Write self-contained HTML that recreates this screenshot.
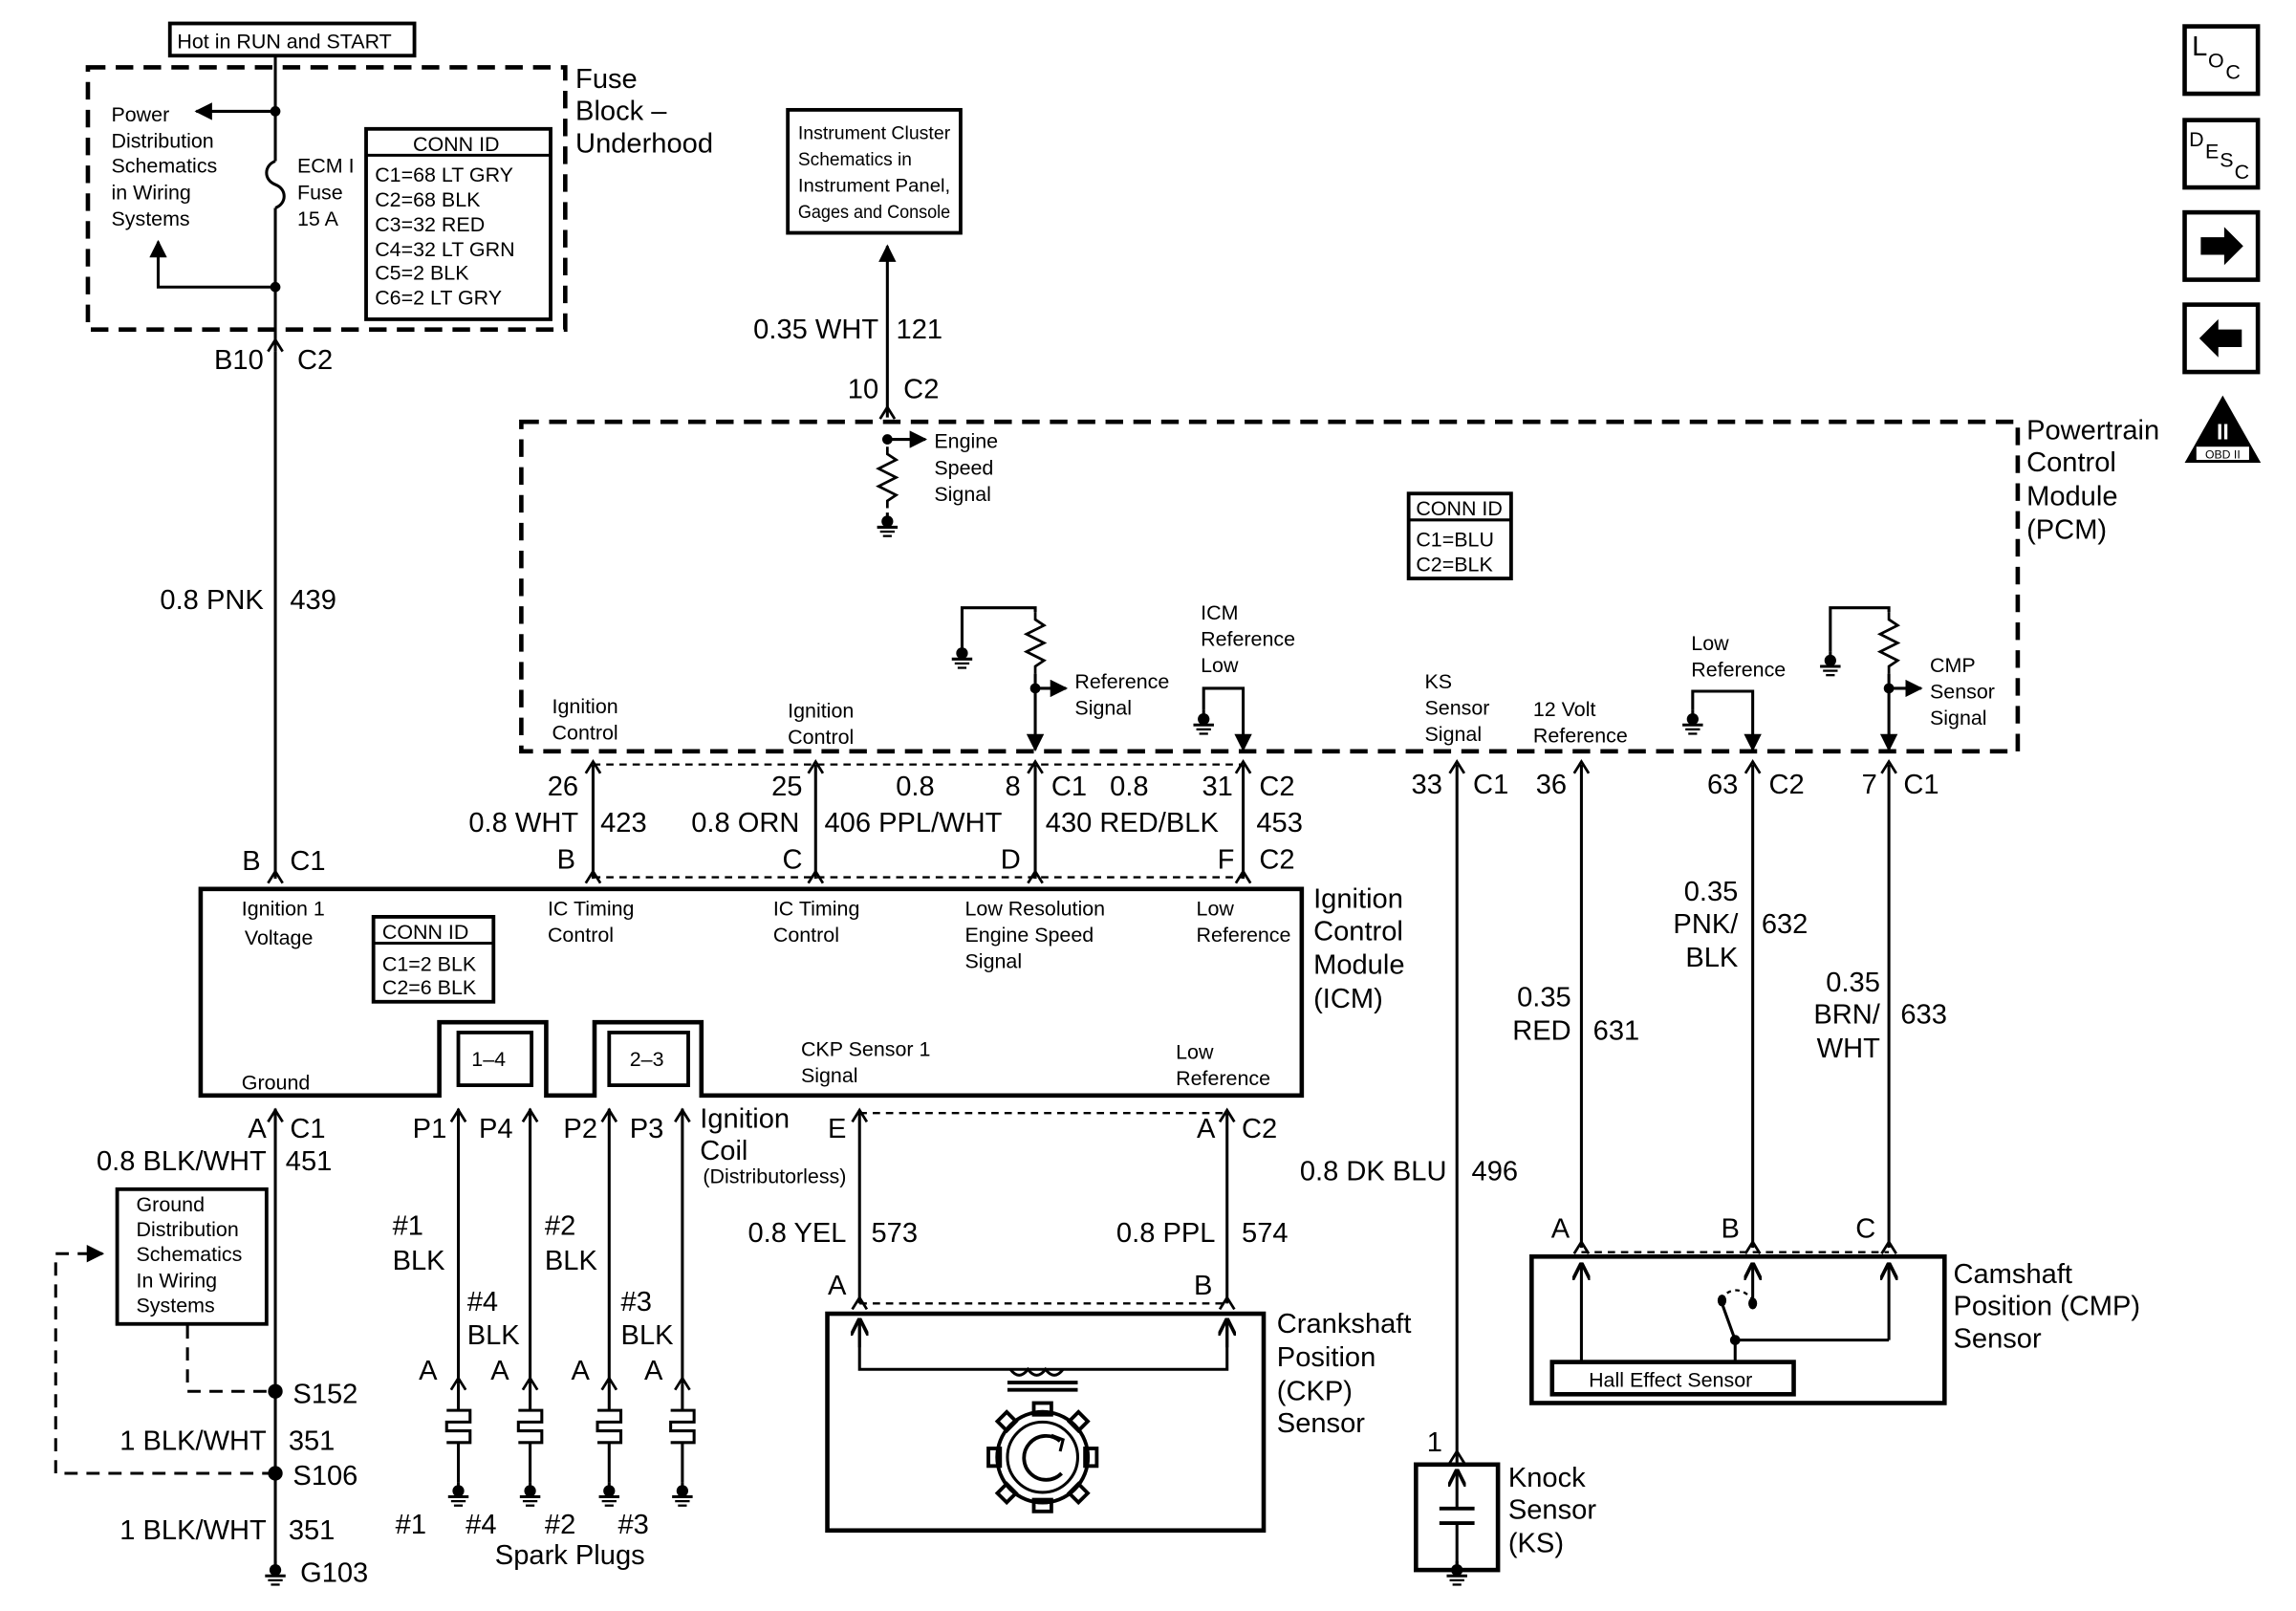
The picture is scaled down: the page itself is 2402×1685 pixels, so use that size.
<!DOCTYPE html>
<html><head><meta charset="utf-8"><style>
html,body{margin:0;padding:0;background:#fff;}
svg{display:block}
text{font-family:"Liberation Sans",Arial,sans-serif;fill:#000}
.s{font-size:14px}
.m{font-size:19px}
.e{text-anchor:end}
</style></head><body>
<svg width="2402" height="1685" viewBox="0 0 1568 1100" xmlns="http://www.w3.org/2000/svg">
<defs>
<marker id="ar" viewBox="0 0 10 10" refX="9" refY="5" markerWidth="6" markerHeight="6" orient="auto-start-reverse"><path d="M0,0 L10,5 L0,10 z" fill="#000"/></marker>
<marker id="op" viewBox="0 0 10 10" refX="10" refY="5" markerWidth="6" markerHeight="6" orient="auto"><path d="M0,0 L10,5 L0,10" fill="none" stroke="#000" stroke-width="2"/></marker>
<g id="gnd"><line x1="0" y1="0" x2="0" y2="4" stroke="#000" stroke-width="2"/><circle cx="0" cy="6" r="4" fill="#000"/><line x1="-7" y1="10" x2="7" y2="10" stroke="#000" stroke-width="2"/><line x1="-5" y1="13" x2="5" y2="13" stroke="#000" stroke-width="1.5"/><line x1="-3" y1="16" x2="3" y2="16" stroke="#000" stroke-width="1.5"/></g>
<path id="cn" d="M-5,6 L0,-2 L5,6" fill="none" stroke="#000" stroke-width="1.8"/>
<path id="res" d="M0,0 L0,5 L6,9 L-6,15 L6,21 L-6,27 L6,33 L0,37 L0,42" fill="none" stroke="#000" stroke-width="1.8"/>
</defs>
<g stroke="#000" fill="none" stroke-width="2">
<rect x="116" y="16" width="167" height="22" stroke-width="2.5"/>
<rect x="60" y="46" width="326" height="179" stroke-width="3" stroke-dasharray="12,7"/>
<line x1="188" y1="38" x2="188" y2="110"/>
<path d="M188,110 c-8,3 -8,13 0,16 c8,3 8,13 0,16"/>
<line x1="188" y1="142" x2="188" y2="240"/>
<line x1="188" y1="76" x2="134" y2="76" marker-end="url(#ar)"/>
<polyline points="188,196 108,196 108,165" marker-end="url(#ar)"/>
<rect x="250" y="88" width="126" height="130" stroke-width="2.5"/>
<line x1="250" y1="106" x2="376" y2="106"/>
<rect x="538" y="75" width="118" height="84" stroke-width="2.5"/>
<line x1="606" y1="285" x2="606" y2="168" marker-end="url(#ar)"/>
<rect x="356" y="288" width="1022" height="225" stroke-width="3" stroke-dasharray="12,7"/>
<line x1="606" y1="300" x2="632" y2="300" marker-end="url(#ar)"/>
<use href="#res" x="606" y="305"/>
<rect x="962" y="337" width="70" height="58" stroke-width="2.5"/>
<line x1="962" y1="355" x2="1032" y2="355"/>
<use href="#res" x="707" y="418"/>
<polyline points="707,418 707,415 657,415 657,440"/>
<line x1="707" y1="460" x2="707" y2="512" marker-end="url(#ar)"/>
<line x1="707" y1="470" x2="728" y2="470" marker-end="url(#ar)"/>
<polyline points="822,485 822,470 849,470 849,512" marker-end="url(#ar)"/>
<polyline points="1156,485 1156,472 1197,472 1197,512" marker-end="url(#ar)"/>
<use href="#res" x="1290" y="418"/>
<polyline points="1290,418 1290,415 1250,415 1250,445"/>
<line x1="1290" y1="460" x2="1290" y2="512" marker-end="url(#ar)"/>
<line x1="1290" y1="470" x2="1312" y2="470" marker-end="url(#ar)"/>
<line x1="405" y1="522" x2="849" y2="522" stroke-dasharray="5,4" stroke-width="1.5"/>
<line x1="405" y1="599" x2="849" y2="599" stroke-dasharray="5,4" stroke-width="1.5"/>
<line x1="405" y1="522" x2="405" y2="600"/>
<line x1="557" y1="522" x2="557" y2="600"/>
<line x1="707" y1="522" x2="707" y2="600"/>
<line x1="849" y1="522" x2="849" y2="600"/>
<line x1="188" y1="240" x2="188" y2="600"/>
<path d="M137,607 L889,607 L889,748 L479,748 L479,698 L406,698 L406,748 L373,748 L373,698 L300,698 L300,748 L137,748 Z" stroke-width="3"/>
<rect x="313" y="705" width="50" height="36" stroke-width="2.5"/>
<rect x="416" y="705" width="54" height="36" stroke-width="2.5"/>
<rect x="255" y="626" width="82" height="58" stroke-width="2.5"/>
<line x1="255" y1="644" x2="337" y2="644"/>
<line x1="995" y1="522" x2="995" y2="1000"/>
<line x1="1080" y1="522" x2="1080" y2="852"/>
<line x1="1197" y1="522" x2="1197" y2="852"/>
<line x1="1290" y1="522" x2="1290" y2="852"/>
<line x1="1080" y1="855" x2="1290" y2="855" stroke-dasharray="5,4" stroke-width="1.5"/>
<rect x="1046" y="858" width="282" height="100" stroke-width="3"/>
<rect x="1060" y="930" width="165" height="22" stroke-width="3"/>
<line x1="1080" y1="930" x2="1080" y2="862" marker-end="url(#op)"/>
<line x1="1197" y1="890" x2="1197" y2="862" marker-end="url(#op)"/>
<line x1="1290" y1="915" x2="1290" y2="862" marker-end="url(#op)"/>
<polyline points="1290,915 1185,915 1185,930"/>
<line x1="1185" y1="915" x2="1176" y2="890"/>
<path d="M1175,887 q10,-12 22,0" stroke-dasharray="3,3" stroke-width="1.5"/>
<rect x="967" y="1000" width="56" height="72" stroke-width="3"/>
<line x1="995" y1="1030" x2="995" y2="1003" marker-end="url(#op)"/>
<line x1="983" y1="1030" x2="1007" y2="1030" stroke-width="2.5"/>
<line x1="983" y1="1040" x2="1007" y2="1040" stroke-width="2.5"/>
<line x1="995" y1="1040" x2="995" y2="1070"/>
<line x1="587" y1="760" x2="838" y2="760" stroke-dasharray="5,4" stroke-width="1.5"/>
<line x1="587" y1="890" x2="838" y2="890" stroke-dasharray="5,4" stroke-width="1.5"/>
<line x1="587" y1="760" x2="587" y2="890"/>
<line x1="838" y1="760" x2="838" y2="890"/>
<rect x="565" y="897" width="298" height="148" stroke-width="3"/>
<polyline points="587,902 587,935 838,935 838,902"/>
<line x1="587" y1="920" x2="587" y2="900" marker-end="url(#op)"/>
<line x1="838" y1="920" x2="838" y2="900" marker-end="url(#op)"/>
<path d="M690,935 q6,8 12,0 q6,8 12,0 q6,8 12,0"/>
<line x1="688" y1="944" x2="736" y2="944" stroke-width="2.5"/><line x1="688" y1="949" x2="736" y2="949" stroke-width="2.5"/>
<circle cx="712" cy="995" r="31" stroke-width="2.5"/>
<circle cx="712" cy="995" r="24" stroke-width="2"/>
<g stroke-width="2.5">
<rect x="706" y="958" width="12" height="8"/>
<rect x="706" y="1024" width="12" height="8"/>
<rect x="675" y="989" width="8" height="12"/>
<rect x="741" y="989" width="8" height="12"/>
<rect x="683" y="966" width="9" height="9" transform="rotate(45 687.5 970.5)"/>
<rect x="732" y="966" width="9" height="9" transform="rotate(45 736.5 970.5)"/>
<rect x="683" y="1015" width="9" height="9" transform="rotate(45 687.5 1019.5)"/>
<rect x="732" y="1015" width="9" height="9" transform="rotate(45 736.5 1019.5)"/>
</g>
<path d="M724,984 A15,15 0 1 0 725,1006" stroke-width="2.5"/>
<path d="M718,980 l8,3 -2,8" stroke-width="2"/>
<line x1="313" y1="757" x2="313" y2="945"/>
<line x1="362" y1="757" x2="362" y2="945"/>
<line x1="416" y1="757" x2="416" y2="945"/>
<line x1="466" y1="757" x2="466" y2="945"/>
<line x1="188" y1="757" x2="188" y2="1068"/>
<rect x="80" y="812" width="102" height="92" stroke-width="2.5"/>
<polyline points="128,905 128,950 188,950" stroke-dasharray="9,6"/>
<polyline points="188,1006 38,1006 38,856 70,856" stroke-dasharray="9,6" marker-end="url(#ar)"/>
<rect x="1492" y="18" width="50" height="46" stroke-width="3"/>
<rect x="1492" y="82" width="50" height="46" stroke-width="3"/>
<rect x="1492" y="145" width="50" height="46" stroke-width="3"/>
<rect x="1492" y="208" width="50" height="46" stroke-width="3"/>
</g>
<path d="M1503,162 h16 v-7 l13,13 -13,13 v-7 h-16 z"/>
<path d="M1531,225 h-16 v-7 l-13,13 13,13 v-7 h16 z"/>
<path d="M1518,270 L1544,316 L1492,316 Z"/>
<rect x="1500" y="305" width="36" height="9" fill="#fff"/>
<text x="1518" y="300" style="font-size:15px;fill:#fff;font-weight:bold" text-anchor="middle">II</text>
<text x="1518" y="313" style="font-size:8px" text-anchor="middle">OBD II</text>
<text x="1497" y="38" class="m">L</text><text x="1508" y="46" class="s">O</text><text x="1520" y="54" class="s">C</text>
<text x="1495" y="100" class="s">D</text><text x="1506" y="108" class="s">E</text><text x="1516" y="114" class="s">S</text><text x="1526" y="122" class="s">C</text>
<g fill="#000">
<circle cx="188" cy="76" r="3.5"/><circle cx="188" cy="196" r="3.5"/>
<circle cx="606" cy="300" r="3.5"/><circle cx="707" cy="470" r="3.5"/><circle cx="1290" cy="470" r="3.5"/>
<circle cx="188" cy="950" r="5"/><circle cx="188" cy="1006" r="5"/>
<circle cx="1185" cy="915" r="3.5"/><ellipse cx="1176" cy="888" rx="3" ry="4"/><ellipse cx="1197" cy="890" rx="3" ry="4"/>
</g>
<use href="#gnd" x="606" y="350"/><use href="#gnd" x="657" y="440"/><use href="#gnd" x="822" y="485"/>
<use href="#gnd" x="1156" y="485"/><use href="#gnd" x="1250" y="445"/>
<use href="#gnd" x="188" y="1066"/><use href="#gnd" x="995" y="1066"/>
<use href="#gnd" x="313" y="1012"/><use href="#gnd" x="362" y="1012"/><use href="#gnd" x="416" y="1012"/><use href="#gnd" x="466" y="1012"/>
<g stroke="#000" fill="none" stroke-width="2">
<path id="sp" d="M313,945 v18 M305,963 h16 v8 h-16 v6 h16 v8 h-16 M313,985 v27"/>
<use href="#sp" x="49"/><use href="#sp" x="103"/><use href="#sp" x="153"/>
</g>
<g>
<use href="#cn" x="188" y="234"/><use href="#cn" x="606" y="280"/>
<use href="#cn" x="405" y="522"/><use href="#cn" x="557" y="522"/><use href="#cn" x="707" y="522"/><use href="#cn" x="849" y="522"/>
<use href="#cn" x="995" y="522"/><use href="#cn" x="1080" y="522"/><use href="#cn" x="1197" y="522"/><use href="#cn" x="1290" y="522"/>
<use href="#cn" x="188" y="597"/><use href="#cn" x="405" y="597"/><use href="#cn" x="557" y="597"/><use href="#cn" x="707" y="597"/><use href="#cn" x="849" y="597"/>
<use href="#cn" x="188" y="760"/><use href="#cn" x="313" y="760"/><use href="#cn" x="362" y="760"/><use href="#cn" x="416" y="760"/><use href="#cn" x="466" y="760"/>
<use href="#cn" x="587" y="760"/><use href="#cn" x="838" y="760"/>
<use href="#cn" x="587" y="888"/><use href="#cn" x="838" y="888"/>
<use href="#cn" x="1080" y="850"/><use href="#cn" x="1197" y="850"/><use href="#cn" x="1290" y="850"/>
<use href="#cn" x="313" y="943"/><use href="#cn" x="362" y="943"/><use href="#cn" x="416" y="943"/><use href="#cn" x="466" y="943"/>
<use href="#cn" x="995" y="993"/>
</g>
<text x="121" y="33" class="s">Hot in RUN and START</text>
<text x="393" y="60" class="m">Fuse</text><text x="393" y="82" class="m">Block –</text><text x="393" y="104" class="m">Underhood</text>
<text x="76" y="83" class="s">Power</text><text x="76" y="101" class="s">Distribution</text><text x="76" y="118" class="s">Schematics</text><text x="76" y="136" class="s">in Wiring</text><text x="76" y="154" class="s">Systems</text>
<text x="203" y="118" class="s">ECM I</text><text x="203" y="136" class="s">Fuse</text><text x="203" y="154" class="s">15 A</text>
<text x="282" y="103" class="s">CONN ID</text>
<text x="256" y="124" class="s">C1=68 LT GRY</text><text x="256" y="141" class="s">C2=68 BLK</text><text x="256" y="158" class="s">C3=32 RED</text><text x="256" y="175" class="s">C4=32 LT GRN</text><text x="256" y="191" class="s">C5=2 BLK</text><text x="256" y="208" class="s">C6=2 LT GRY</text>
<text x="545" y="95" style="font-size:12.5px" textLength="104" lengthAdjust="spacingAndGlyphs">Instrument Cluster</text>
<text x="545" y="113" style="font-size:12.5px">Schematics in</text>
<text x="545" y="131" style="font-size:12.5px" textLength="104" lengthAdjust="spacingAndGlyphs">Instrument Panel,</text>
<text x="545" y="149" style="font-size:12.5px" textLength="104" lengthAdjust="spacingAndGlyphs">Gages and Console</text>
<text x="600" y="231" class="m e">0.35 WHT</text><text x="612" y="231" class="m">121</text>
<text x="600" y="272" class="m e">10</text><text x="617" y="272" class="m">C2</text>
<text x="180" y="252" class="m e">B10</text><text x="203" y="252" class="m">C2</text>
<text x="180" y="416" class="m e">0.8 PNK</text><text x="198" y="416" class="m">439</text>
<text x="178" y="594" class="m e">B</text><text x="198" y="594" class="m">C1</text>
<text x="1384" y="300" class="m">Powertrain</text><text x="1384" y="322" class="m">Control</text><text x="1384" y="345" class="m">Module</text><text x="1384" y="368" class="m">(PCM)</text>
<text x="638" y="306" class="s">Engine</text><text x="638" y="324" class="s">Speed</text><text x="638" y="342" class="s">Signal</text>
<text x="967" y="352" class="s">CONN ID</text><text x="967" y="373" class="s">C1=BLU</text><text x="967" y="390" class="s">C2=BLK</text>
<text x="734" y="470" class="s">Reference</text><text x="734" y="488" class="s">Signal</text>
<text x="820" y="423" class="s">ICM</text><text x="820" y="441" class="s">Reference</text><text x="820" y="459" class="s">Low</text>
<text x="377" y="487" class="s">Ignition</text><text x="377" y="505" class="s">Control</text>
<text x="538" y="490" class="s">Ignition</text><text x="538" y="508" class="s">Control</text>
<text x="973" y="470" class="s">KS</text><text x="973" y="488" class="s">Sensor</text><text x="973" y="506" class="s">Signal</text>
<text x="1047" y="489" class="s">12 Volt</text><text x="1047" y="507" class="s">Reference</text>
<text x="1155" y="444" class="s">Low</text><text x="1155" y="462" class="s">Reference</text>
<text x="1318" y="459" class="s">CMP</text><text x="1318" y="477" class="s">Sensor</text><text x="1318" y="495" class="s">Signal</text>
<text x="395" y="543" class="m e">26</text><text x="548" y="543" class="m e">25</text><text x="625" y="543" class="m" text-anchor="middle">0.8</text>
<text x="697" y="543" class="m e">8</text><text x="718" y="543" class="m">C1</text><text x="758" y="543" class="m">0.8</text>
<text x="842" y="543" class="m e">31</text><text x="860" y="543" class="m">C2</text>
<text x="395" y="568" class="m e">0.8 WHT</text><text x="410" y="568" class="m">423</text>
<text x="546" y="568" class="m e">0.8 ORN</text><text x="563" y="568" class="m">406 PPL/WHT</text>
<text x="714" y="568" class="m">430 RED/BLK</text><text x="858" y="568" class="m">453</text>
<text x="393" y="593" class="m e">B</text><text x="548" y="593" class="m e">C</text><text x="697" y="593" class="m e">D</text><text x="843" y="593" class="m e">F</text><text x="860" y="593" class="m">C2</text>
<text x="985" y="542" class="m e">33</text><text x="1006" y="542" class="m">C1</text>
<text x="1070" y="542" class="m e">36</text>
<text x="1187" y="542" class="m e">63</text><text x="1208" y="542" class="m">C2</text>
<text x="1282" y="542" class="m e">7</text><text x="1300" y="542" class="m">C1</text>
<text x="165" y="625" class="s">Ignition 1</text><text x="167" y="645" class="s">Voltage</text>
<text x="261" y="641" class="s">CONN ID</text><text x="261" y="663" class="s">C1=2 BLK</text><text x="261" y="679" class="s">C2=6 BLK</text>
<text x="374" y="625" class="s">IC Timing</text><text x="374" y="643" class="s">Control</text>
<text x="528" y="625" class="s">IC Timing</text><text x="528" y="643" class="s">Control</text>
<text x="659" y="625" class="s">Low Resolution</text><text x="659" y="643" class="s">Engine Speed</text><text x="659" y="661" class="s">Signal</text>
<text x="817" y="625" class="s">Low</text><text x="817" y="643" class="s">Reference</text>
<text x="165" y="744" class="s">Ground</text>
<text x="322" y="728" class="s">1–4</text><text x="430" y="728" class="s">2–3</text>
<text x="547" y="721" class="s">CKP Sensor 1</text><text x="547" y="739" class="s">Signal</text>
<text x="803" y="723" class="s">Low</text><text x="803" y="741" class="s">Reference</text>
<text x="897" y="620" class="m">Ignition</text><text x="897" y="642" class="m">Control</text><text x="897" y="665" class="m">Module</text><text x="897" y="688" class="m">(ICM)</text>
<text x="1187" y="615" class="m e">0.35</text><text x="1187" y="637" class="m e">PNK/</text><text x="1187" y="660" class="m e">BLK</text><text x="1203" y="637" class="m">632</text>
<text x="1073" y="687" class="m e">0.35</text><text x="1073" y="710" class="m e">RED</text><text x="1088" y="710" class="m">631</text>
<text x="1284" y="677" class="m e">0.35</text><text x="1284" y="699" class="m e">BRN/</text><text x="1284" y="722" class="m e">WHT</text><text x="1298" y="699" class="m">633</text>
<text x="182" y="777" class="m e">A</text><text x="198" y="777" class="m">C1</text>
<text x="182" y="799" class="m e">0.8 BLK/WHT</text><text x="195" y="799" class="m">451</text>
<text x="93" y="827" class="s">Ground</text><text x="93" y="844" class="s">Distribution</text><text x="93" y="861" class="s">Schematics</text><text x="93" y="879" class="s">In Wiring</text><text x="93" y="896" class="s">Systems</text>
<text x="200" y="958" class="m">S152</text>
<text x="182" y="990" class="m e">1 BLK/WHT</text><text x="197" y="990" class="m">351</text>
<text x="200" y="1014" class="m">S106</text>
<text x="182" y="1051" class="m e">1 BLK/WHT</text><text x="197" y="1051" class="m">351</text>
<text x="205" y="1080" class="m">G103</text>
<text x="305" y="777" class="m e">P1</text><text x="327" y="777" class="m">P4</text><text x="408" y="777" class="m e">P2</text><text x="430" y="777" class="m">P3</text>
<text x="478" y="770" class="m">Ignition</text><text x="478" y="792" class="m">Coil</text><text x="480" y="808" class="s">(Distributorless)</text>
<text x="268" y="843" class="m">#1</text><text x="268" y="867" class="m">BLK</text>
<text x="372" y="843" class="m">#2</text><text x="372" y="867" class="m">BLK</text>
<text x="319" y="895" class="m">#4</text><text x="319" y="918" class="m">BLK</text>
<text x="424" y="895" class="m">#3</text><text x="424" y="918" class="m">BLK</text>
<text x="286" y="942" class="m">A</text><text x="335" y="942" class="m">A</text><text x="390" y="942" class="m">A</text><text x="440" y="942" class="m">A</text>
<text x="270" y="1047" class="m">#1</text><text x="318" y="1047" class="m">#4</text><text x="372" y="1047" class="m">#2</text><text x="422" y="1047" class="m">#3</text>
<text x="338" y="1068" class="m">Spark Plugs</text>
<text x="578" y="777" class="m e">E</text><text x="830" y="777" class="m e">A</text><text x="848" y="777" class="m">C2</text>
<text x="578" y="848" class="m e">0.8 YEL</text><text x="595" y="848" class="m">573</text>
<text x="830" y="848" class="m e">0.8 PPL</text><text x="848" y="848" class="m">574</text>
<text x="578" y="884" class="m e">A</text><text x="828" y="884" class="m e">B</text>
<text x="872" y="910" class="m">Crankshaft</text><text x="872" y="933" class="m">Position</text><text x="872" y="956" class="m">(CKP)</text><text x="872" y="978" class="m">Sensor</text>
<text x="988" y="806" class="m e">0.8 DK BLU</text><text x="1005" y="806" class="m">496</text>
<text x="1072" y="845" class="m e">A</text><text x="1188" y="845" class="m e">B</text><text x="1281" y="845" class="m e">C</text>
<text x="1334" y="876" class="m">Camshaft</text><text x="1334" y="898" class="m">Position (CMP)</text><text x="1334" y="920" class="m">Sensor</text>
<text x="1085" y="947" class="s">Hall Effect Sensor</text>
<text x="985" y="991" class="m e">1</text>
<text x="1030" y="1015" class="m">Knock</text><text x="1030" y="1037" class="m">Sensor</text><text x="1030" y="1060" class="m">(KS)</text>
</svg>
</body></html>
